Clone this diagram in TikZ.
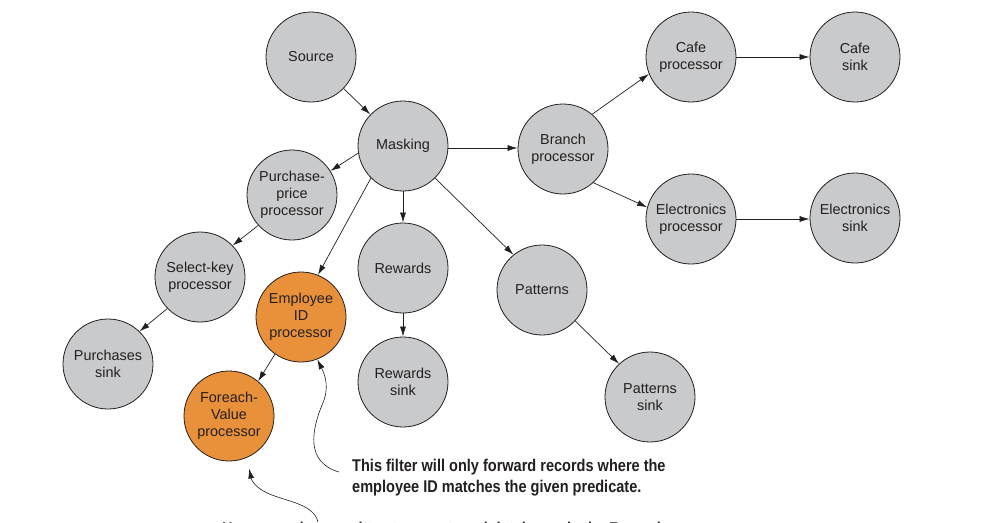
\documentclass[tikz,border=0pt]{standalone}
\usepackage{fontspec}
\setmainfont{Liberation Sans}
\usetikzlibrary{arrows.meta}
\definecolor{nodegray}{HTML}{C9CACC}
\definecolor{nodeorange}{HTML}{E8913A}
\definecolor{ink}{HTML}{231F20}
\tikzset{
  proc/.style={circle, draw=ink, line width=0.8pt, fill=nodegray, minimum size=90pt, inner sep=0pt,
    align=center, font=\fontsize{14.4pt}{17pt}\selectfont, text=ink},
  hot/.style={proc, fill=nodeorange},
  flow/.style={draw=ink, line width=0.7pt, -{Latex[length=10pt,width=6pt]}},
  callout/.style={anchor=base west, align=left, inner sep=0pt, text=ink,
    font=\fontsize{17pt}{20.5pt}\selectfont\bfseries},
}
\begin{document}
\begin{tikzpicture}[x=1pt,y=-1pt]
\useasboundingbox (0,0) rectangle (998,522);
\clip (0,0) rectangle (998,522);
\node[proc] (src) at (311,57) {Source};
\node[proc] (mask) at (403,146) {Masking};
\node[proc] (branch) at (563,149) {Branch\\processor};
\node[proc] (cafep) at (691,57) {Cafe\\processor};
\node[proc] (cafes) at (855,57) {Cafe\\sink};
\node[proc] (elecp) at (691,219) {Electronics\\processor};
\node[proc] (elecs) at (855,218) {Electronics\\sink};
\node[proc] (pprice) at (292,195) {Purchase-\\price\\processor};
\node[proc] (selkey) at (200,277) {Select-key\\processor};
\node[proc] (psink) at (108,364) {Purchases\\sink};
\node[hot] (empid) at (301,317) {Employee\\ID\\processor};
\node[hot] (foreach) at (229,416) {Foreach-\\Value\\processor};
\node[proc] (rew) at (403,268) {Rewards};
\node[proc] (rews) at (403,382) {Rewards\\sink};
\node[proc] (pat) at (542,290) {Patterns};
\node[proc] (pats) at (650,397) {Patterns\\sink};

\draw[flow] (src) -- (mask);
\draw[flow] (mask.east |- 0,148) coordinate (m1) -- (branch.west |- m1);
\draw[flow] (branch.50) -- (cafep.202);
\draw[flow] (branch.-48) -- (elecp.165);
\draw[flow] (cafep) -- (cafes);
\draw[flow] (elecp) -- (elecs.west |- elecp);
\draw[flow] (mask.189) -- (pprice.32);
\draw[flow] (pprice.222) -- (selkey.44);
\draw[flow] (selkey.224) -- (psink.46);
\draw[flow] (mask.225) -- (empid.68);
\draw[flow] (empid.235) -- (foreach.50);
\draw[flow] (mask) -- (rew);
\draw[flow] (rew) -- (rews);
\draw[flow] (mask.-45) -- (pat.129);
\draw[flow] (pat.-43) -- (pats.133);

\node[callout] (note1) at (352,492) {\scalebox{0.855}[1]{This filter will only forward records where the}\\\scalebox{0.855}[1]{employee ID matches the given predicate.}};
\node[callout] (note2) at (222,534.5) {\scalebox{0.855}[1]{Here records are written to an external database via the Foreach processor.}};
\coordinate (c1) at (339,472);
\coordinate (c2) at (318,522);
\draw[flow, line width=0.6pt] (c1) .. controls (305,462) and (312,430) .. (322,405) .. controls (330,388) and (325,375) .. (empid.-69);
\draw[flow, line width=0.6pt, shorten >=11pt] (c2) .. controls (314,505) and (290,502) .. (272,495) .. controls (258,490) and (252,482) .. (foreach.-67);
\end{tikzpicture}
\end{document}
